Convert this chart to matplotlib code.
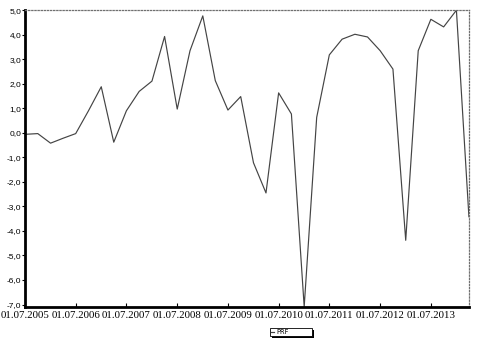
import pandas as pd
import matplotlib
matplotlib.use("Agg")
import matplotlib.pyplot as plt
import matplotlib.dates as mdates
from matplotlib.patches import Rectangle
from matplotlib.ticker import FuncFormatter, MultipleLocator

# quarterly series, 01.07.2005 .. 01.04.2014
start_date = "2005-07-01"
prf = [-0.06, -0.03, -0.42, -0.22, -0.03, 0.90, 1.88, -0.38, 0.90, 1.69,
       2.11, 3.93, 0.97, 3.35, 4.77, 2.13, 0.93, 1.48, -1.22, -2.45,
       1.63, 0.77, -7.09, 0.63, 3.18, 3.82, 4.02, 3.91, 3.35, 2.60,
       -4.38, 3.35, 4.63, 4.32, 5.00, -3.42]
series_name = "PRF"

dates = pd.date_range(start_date, periods=len(prf), freq="3MS")

W, H = 478, 341
fig = plt.figure(figsize=(W / 100, H / 100), dpi=100)
ax = fig.add_axes([0.0523, 0.0997, 0.9287, 0.8703])

ax.plot(dates, prf, color="#444444", lw=0.85, label=series_name)

ax.set_xlim(dates[0], dates[-1])
ax.set_ylim(-7.1, 5.0)

# spines: solid black left/bottom, dotted grey top/right
ax.spines["left"].set_linewidth(2)
ax.spines["bottom"].set_linewidth(2)
for s in ["top", "right"]:
    ax.spines[s].set_linestyle((0, (1, 1.5)))
    ax.spines[s].set_color("#707070")
    ax.spines[s].set_linewidth(0.9)

ax.yaxis.set_major_locator(MultipleLocator(1.0))
ax.yaxis.set_major_formatter(FuncFormatter(lambda v, p: f"{v:.1f}".replace(".", ",")))
ax.tick_params(axis="y", direction="out", length=2, width=0.8, pad=0.5,
               labelsize=6, labelfontfamily="Liberation Sans")

ax.xaxis.set_major_locator(mdates.MonthLocator(bymonth=7, bymonthday=1))
ax.xaxis.set_major_formatter(mdates.DateFormatter("%d.%m.%Y"))
ax.tick_params(axis="x", direction="in", length=3, width=0.8, pad=3,
               labelsize=7.8, labelfontfamily="Liberation Serif")

# legend box with a hard black shadow (drawn beneath the legend entries)
shadow = Rectangle((272 / W, 1 - 338 / H), 42 / W, 8 / H, transform=fig.transFigure,
                   facecolor="black", edgecolor="none", zorder=-2)
box = Rectangle((270 / W, 1 - 336 / H), 42 / W, 8 / H, transform=fig.transFigure,
                facecolor="white", edgecolor="black", lw=0.6, zorder=-1)
fig.patches.extend([shadow, box])

leg = ax.legend(loc="center left", bbox_to_anchor=(270.5 / W, 1 - 332 / H),
                bbox_transform=fig.transFigure, fontsize=4.8, frameon=False,
                handlelength=0.5, handletextpad=0.4, borderpad=0, borderaxespad=0)

plt.savefig("out.png", dpi=100)
